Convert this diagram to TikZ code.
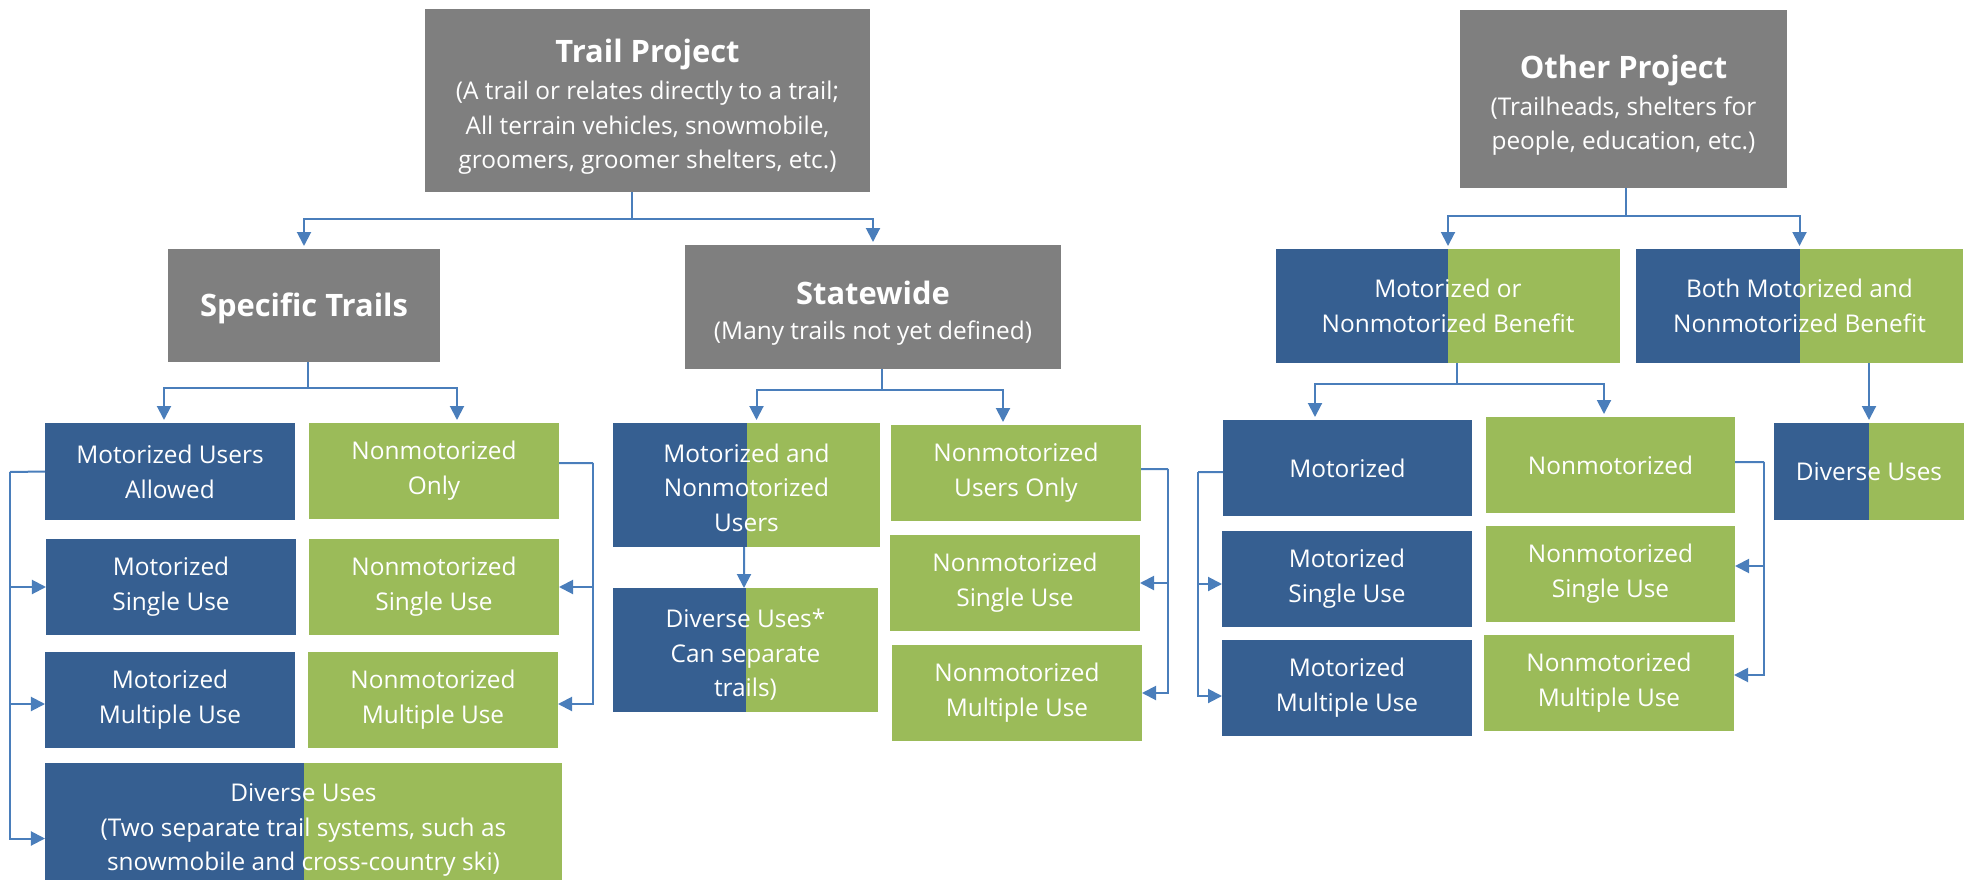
\documentclass[tikz,border=0pt]{standalone}
\usepackage{fontspec}
\setmainfont{Open Sans}
\usetikzlibrary{arrows.meta,calc}
\definecolor{cgray}{HTML}{7F7F7F}
\definecolor{cblue}{HTML}{365F91}
\definecolor{cgreen}{HTML}{9BBB59}
\definecolor{cline}{HTML}{4A7EBB}
\newcommand{\ttlfont}{\fontsize{31}{40}\selectfont\bfseries}
\begin{document}
\begin{tikzpicture}[x=1bp,y=-1bp,
  box/.style={inner sep=0pt, outer sep=0pt, text=white, align=center, font=\fontsize{24.5}{35}\selectfont},
  gbox/.style={box, fill=cgray},
  bbox/.style={box, fill=cblue},
  grbox/.style={box, fill=cgreen},
  sbox/.style={box, fill=cgreen, path picture={\fill[cblue] (path picture bounding box.north west) rectangle (path picture bounding box.south);}},
  conn/.style={draw=cline, line width=2bp},
  arr/.style={conn, -{Triangle[length=14bp,width=14bp]}},
  darr/.style={arr, shorten >=3bp}
]
\useasboundingbox (0,0) rectangle (1973,880);
% top level
\node[gbox, minimum width=445bp, minimum height=183bp] (tp) at (647.5,100.5)
  {{\ttlfont\rule{0pt}{36bp}Trail Project}\\[2bp](A trail or relates directly to a trail;\\All terrain vehicles, snowmobile,\\groomers, groomer shelters, etc.)};
\node[gbox, minimum width=272bp, minimum height=113bp] (st) at (304,305.5)
  {\ttlfont\rule{0pt}{30bp}Specific Trails};
\node[gbox, minimum width=376bp, minimum height=124bp] (sw) at (873,307)
  {{\ttlfont\rule{0pt}{36bp}Statewide}\\(Many trails not yet defined)};
% specific trails children
\node[bbox, minimum width=250bp, minimum height=97bp] (mua) at (170,471.5) {Motorized Users\\Allowed};
\node[grbox, minimum width=250bp, minimum height=96bp] (no) at (434,471) {Nonmotorized\\Only};
\node[bbox, minimum width=250bp, minimum height=96bp] (msu) at (171,587) {Motorized\\Single Use};
\node[grbox, minimum width=250bp, minimum height=96bp] (nsu) at (434,587) {Nonmotorized\\Single Use};
\node[bbox, minimum width=250bp, minimum height=96bp] (mmu) at (170,700) {Motorized\\Multiple Use};
\node[grbox, minimum width=250bp, minimum height=96bp] (nmu) at (433,700) {Nonmotorized\\Multiple Use};
\node[sbox, minimum width=517bp, minimum height=134bp] (div) at (303.5,830) {Diverse Uses\\(Two separate trail systems, such as\\snowmobile and cross-country ski)};
% statewide children
\node[sbox, minimum width=267bp, minimum height=124bp] (mnu) at (746.5,485) {\rule{0pt}{24bp}Motorized and\\Nonmotorized\\Users};
\node[sbox, minimum width=265bp, minimum height=124bp] (dstar) at (745.5,650) {\rule{0pt}{28bp}Diverse Uses*\\Can separate\\trails)};
\node[grbox, minimum width=250bp, minimum height=96bp] (nuo) at (1016,473) {Nonmotorized\\Users Only};
\node[grbox, minimum width=250bp, minimum height=96bp] (nsu2) at (1015,583) {Nonmotorized\\Single Use};
\node[grbox, minimum width=250bp, minimum height=96bp] (nmu2) at (1017,693) {Nonmotorized\\Multiple Use};
% other project
\node[gbox, minimum width=327bp, minimum height=178bp] (op) at (1623.5,99)
  {{\ttlfont\rule{0pt}{36bp}Other Project}\\[2bp](Trailheads, shelters for\\people, education, etc.)};
\node[sbox, minimum width=344bp, minimum height=114bp] (morn) at (1448,306) {Motorized or\\Nonmotorized Benefit};
\node[sbox, minimum width=327bp, minimum height=114bp] (both) at (1799.5,306) {Both Motorized and\\Nonmotorized Benefit};
\node[bbox, minimum width=249bp, minimum height=96bp] (mot) at (1347.5,468) {Motorized};
\node[grbox, minimum width=249bp, minimum height=96bp] (non) at (1610.5,465) {Nonmotorized};
\node[bbox, minimum width=250bp, minimum height=96bp] (msu3) at (1347,579) {Motorized\\Single Use};
\node[grbox, minimum width=249bp, minimum height=96bp] (nsu3) at (1610.5,574) {Nonmotorized\\Single Use};
\node[bbox, minimum width=250bp, minimum height=96bp] (mmu3) at (1347,688) {Motorized\\Multiple Use};
\node[grbox, minimum width=250bp, minimum height=96bp] (nmu3) at (1609,683) {Nonmotorized\\Multiple Use};
\node[sbox, minimum width=190bp, minimum height=97bp] (d3) at (1869,471.5) {Diverse Uses};
% connectors: trail project
\coordinate (j1) at (632,219);
\draw[conn] (tp.south -| j1) -- (j1);
\draw[darr] (j1) -| (st.north);
\draw[darr] (j1) -| (sw.north);
% specific trails
\coordinate (j2) at (308,388);
\draw[conn] (st.south -| j2) -- (j2);
\draw[darr] (j2) -| ([xshift=-6bp]mua.north);
\draw[darr] (j2) -| ([xshift=23bp]no.north);
% statewide
\coordinate (j3) at (882,390);
\draw[conn] (sw.south -| j3) -- (j3);
\draw[darr] (j3) -| ([xshift=10bp]mnu.north);
\draw[darr] (j3) -| ([xshift=-13bp]nuo.north);
\draw[arr] ([xshift=-2.5bp]mnu.south) -- ([xshift=-1.5bp]dstar.north);
% left bracket
\coordinate (b1) at (10,472);
\coordinate (t0) at ([yshift=-8.5bp]div.west);
\coordinate (t1) at ([yshift=-4bp]mmu.west);
\draw[conn] (mua.west) -- (b1);
\draw[arr] (b1) |- (t0);
\draw[arr] (b1 |- msu.west) -- (msu.west);
\draw[arr] (b1 |- t1) -- (t1);
% nonmotorized only bracket
\coordinate (b2) at (593,463);
\coordinate (t2) at ([yshift=-4bp]nmu.east);
\draw[conn] ([yshift=8bp]no.east) -- (b2);
\draw[arr] (b2) |- (t2);
\draw[arr] (b2 |- nsu.east) -- (nsu.east);
% nonmotorized users only bracket
\coordinate (b3) at (1168,469);
\draw[conn] ([yshift=4bp]nuo.east) -- (b3);
\draw[arr] (b3) |- (nmu2.east);
\draw[arr] (b3 |- nsu2.east) -- (nsu2.east);
% other project
\coordinate (j4) at (1626,216);
\draw[conn] (op.south -| j4) -- (j4);
\draw[darr] (j4) -| (morn.north);
\draw[darr] (j4) -| (both.north);
% motorized or nonmotorized
\coordinate (j5) at (1457,384);
\draw[conn] (morn.south -| j5) -- (j5);
\draw[darr] (j5) -| ([xshift=-32.5bp]mot.north);
\draw[darr] (j5) -| ([xshift=-6.5bp]non.north);
% both
\draw[darr] (both.south -| d3.north) -- (d3.north);
% motorized bracket
\coordinate (b4) at (1198,472);
\coordinate (t4) at ([yshift=-5bp]msu3.west);
\coordinate (t5) at ([yshift=-8bp]mmu3.west);
\draw[conn] ([yshift=-4bp]mot.west) -- (b4);
\draw[arr] (b4) |- (t5);
\draw[arr] (b4 |- t4) -- (t4);
% nonmotorized bracket
\coordinate (b5) at (1764,462);
\coordinate (t6) at ([yshift=8bp]nsu3.east);
\coordinate (t7) at ([yshift=8bp]nmu3.east);
\draw[conn] ([yshift=3bp]non.east) -- (b5);
\draw[arr] (b5) |- (t7);
\draw[arr] (b5 |- t6) -- (t6);
\end{tikzpicture}
\end{document}
